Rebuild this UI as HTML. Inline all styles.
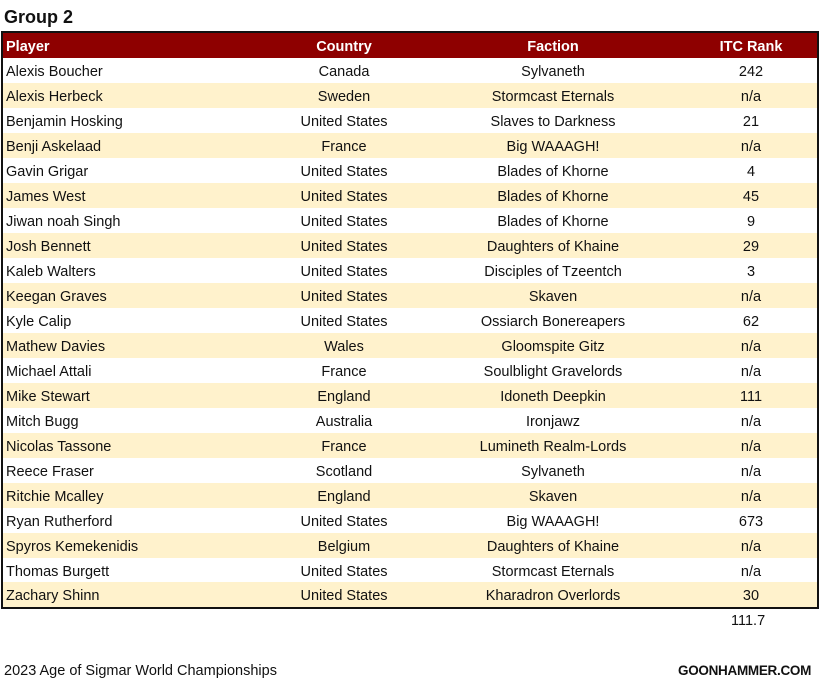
<!DOCTYPE html>
<html><head><meta charset="utf-8"><style>
body{margin:0;width:820px;height:684px;background:#fff;font-family:"Liberation Sans",sans-serif;position:relative;overflow:hidden;color:#111}
.t{position:absolute;left:4px;top:7px;font-size:18px;font-weight:bold}
.tb{position:absolute;left:1px;top:31px;width:814px;height:574px;border:2px solid #111}
.r{position:absolute;left:0;width:814px;height:25px;font-size:14.5px;line-height:29px}
.h{background:#8e0000;color:#fff;font-weight:bold}
.s{background:#fff2cc}
.r span{position:absolute;white-space:nowrap}
.c1{left:3px}
.c2{left:241px;width:200px;text-align:center}
.c3{left:450px;width:200px;text-align:center}
.c4{left:698px;width:100px;text-align:center}
.f{position:absolute;font-size:14.5px}
</style></head><body>
<div class="t">Group 2</div>
<div class="tb">
<div class="r h" style="top:0"><span class="c1">Player</span><span class="c2">Country</span><span class="c3">Faction</span><span class="c4">ITC Rank</span></div>
<div class="r" style="top:25px"><span class="c1">Alexis Boucher</span><span class="c2">Canada</span><span class="c3">Sylvaneth</span><span class="c4">242</span></div>
<div class="r s" style="top:50px"><span class="c1">Alexis Herbeck</span><span class="c2">Sweden</span><span class="c3">Stormcast Eternals</span><span class="c4">n/a</span></div>
<div class="r" style="top:75px"><span class="c1">Benjamin Hosking</span><span class="c2">United States</span><span class="c3">Slaves to Darkness</span><span class="c4">21</span></div>
<div class="r s" style="top:100px"><span class="c1">Benji Askelaad</span><span class="c2">France</span><span class="c3">Big WAAAGH!</span><span class="c4">n/a</span></div>
<div class="r" style="top:125px"><span class="c1">Gavin Grigar</span><span class="c2">United States</span><span class="c3">Blades of Khorne</span><span class="c4">4</span></div>
<div class="r s" style="top:150px"><span class="c1">James West</span><span class="c2">United States</span><span class="c3">Blades of Khorne</span><span class="c4">45</span></div>
<div class="r" style="top:175px"><span class="c1">Jiwan noah Singh</span><span class="c2">United States</span><span class="c3">Blades of Khorne</span><span class="c4">9</span></div>
<div class="r s" style="top:200px"><span class="c1">Josh Bennett</span><span class="c2">United States</span><span class="c3">Daughters of Khaine</span><span class="c4">29</span></div>
<div class="r" style="top:225px"><span class="c1">Kaleb Walters</span><span class="c2">United States</span><span class="c3">Disciples of Tzeentch</span><span class="c4">3</span></div>
<div class="r s" style="top:250px"><span class="c1">Keegan Graves</span><span class="c2">United States</span><span class="c3">Skaven</span><span class="c4">n/a</span></div>
<div class="r" style="top:275px"><span class="c1">Kyle Calip</span><span class="c2">United States</span><span class="c3">Ossiarch Bonereapers</span><span class="c4">62</span></div>
<div class="r s" style="top:300px"><span class="c1">Mathew Davies</span><span class="c2">Wales</span><span class="c3">Gloomspite Gitz</span><span class="c4">n/a</span></div>
<div class="r" style="top:325px"><span class="c1">Michael Attali</span><span class="c2">France</span><span class="c3">Soulblight Gravelords</span><span class="c4">n/a</span></div>
<div class="r s" style="top:350px"><span class="c1">Mike Stewart</span><span class="c2">England</span><span class="c3">Idoneth Deepkin</span><span class="c4">111</span></div>
<div class="r" style="top:375px"><span class="c1">Mitch Bugg</span><span class="c2">Australia</span><span class="c3">Ironjawz</span><span class="c4">n/a</span></div>
<div class="r s" style="top:400px"><span class="c1">Nicolas Tassone</span><span class="c2">France</span><span class="c3">Lumineth Realm-Lords</span><span class="c4">n/a</span></div>
<div class="r" style="top:425px"><span class="c1">Reece Fraser</span><span class="c2">Scotland</span><span class="c3">Sylvaneth</span><span class="c4">n/a</span></div>
<div class="r s" style="top:450px"><span class="c1">Ritchie Mcalley</span><span class="c2">England</span><span class="c3">Skaven</span><span class="c4">n/a</span></div>
<div class="r" style="top:475px"><span class="c1">Ryan Rutherford</span><span class="c2">United States</span><span class="c3">Big WAAAGH!</span><span class="c4">673</span></div>
<div class="r s" style="top:500px"><span class="c1">Spyros Kemekenidis</span><span class="c2">Belgium</span><span class="c3">Daughters of Khaine</span><span class="c4">n/a</span></div>
<div class="r" style="top:525px"><span class="c1">Thomas Burgett</span><span class="c2">United States</span><span class="c3">Stormcast Eternals</span><span class="c4">n/a</span></div>
<div class="r s" style="top:549px"><span class="c1">Zachary Shinn</span><span class="c2">United States</span><span class="c3">Kharadron Overlords</span><span class="c4">30</span></div>
</div>
<div class="f" style="left:731px;top:613px">111.7</div>
<div class="f" style="left:4px;top:663px">2023 Age of Sigmar World Championships</div>
<div class="f" style="left:678px;top:663px;font-weight:bold;font-size:13.5px;letter-spacing:-0.3px">GOONHAMMER.COM</div>
</body></html>
